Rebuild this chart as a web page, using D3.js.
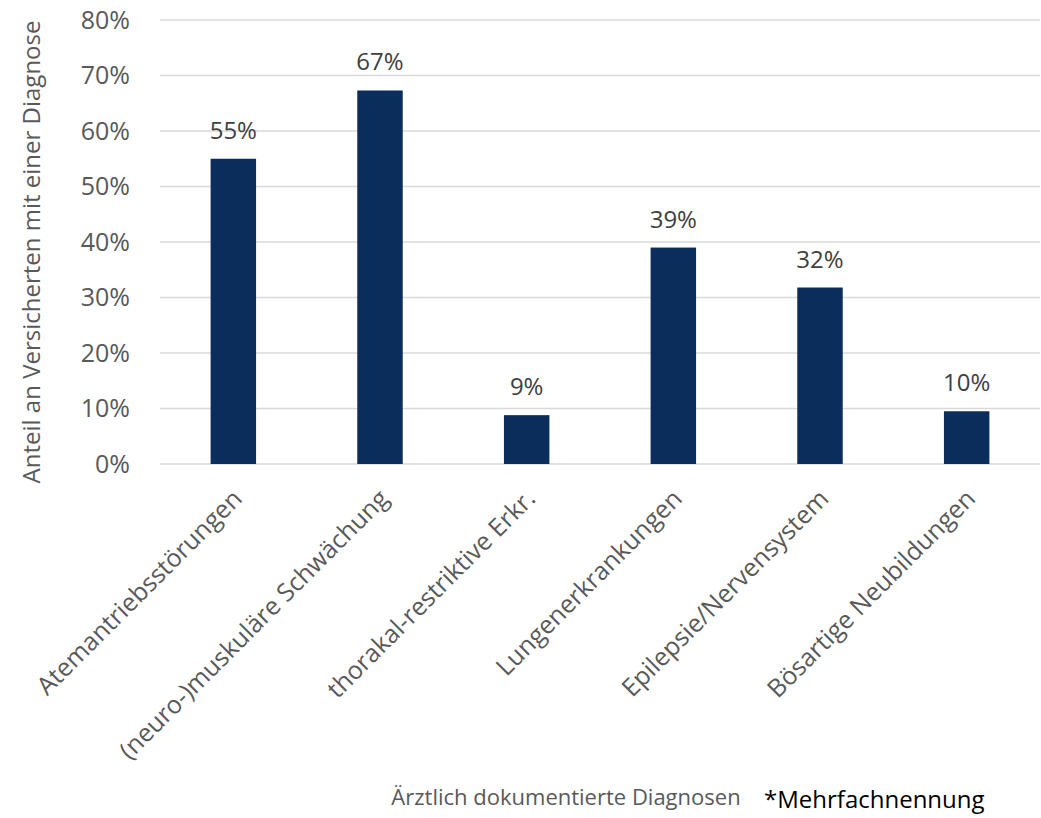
<!DOCTYPE html>
<html><head><meta charset="utf-8">
<script src="https://cdn.jsdelivr.net/npm/d3@7"></script>
<style>body{margin:0;background:#fff;} svg{display:block;font-family:"Open Sans",sans-serif;}</style>
</head><body>
<svg id="c" width="1041" height="818"></svg>
<script>
const categories = ["Atemantriebsstörungen","(neuro-)muskuläre Schwächung","thorakal-restriktive Erkr.","Lungenerkrankungen","Epilepsie/Nervensystem","Bösartige Neubildungen"];
const values = [55, 67.3, 8.8, 39, 31.8, 9.5];
const valueLabels = ["55%","67%","9%","39%","32%","10%"];
const yTicks = [0,10,20,30,40,50,60,70,80];

(function(){
const svg = d3.select("#c");
const mL = 160, mR = 1040, mT = 20, mB = 464;
const x = d3.scaleBand().domain(categories).range([mL, mR]).paddingInner(0.69).paddingOuter(0.345);
const y = d3.scaleLinear().domain([0,80]).range([mB, mT]);

svg.append("g").selectAll("line").data(yTicks).join("line")
  .attr("x1", mL).attr("x2", mR).attr("y1", d=>y(d)).attr("y2", d=>y(d))
  .attr("stroke", "#d9d9d9").attr("stroke-width", 1.5);

svg.append("g").selectAll("text").data(yTicks).join("text")
  .attr("x", 130).attr("y", d=>y(d)).attr("dy", "0.35em").attr("text-anchor","end")
  .attr("font-size", 25).attr("fill", "#595959").text(d=>d+"%");

svg.append("g").selectAll("rect").data(values).join("rect")
  .attr("x", (d,i)=>x(categories[i])).attr("width", x.bandwidth())
  .attr("y", d=>y(d)).attr("height", d=>mB - y(d)).attr("fill", "#0b2d5b");

svg.append("g").selectAll("text").data(values).join("text")
  .attr("x", (d,i)=>x(categories[i]) + x.bandwidth()/2).attr("y", d=>y(d) - 20)
  .attr("text-anchor","middle").attr("font-size", 24).attr("fill","#404040")
  .text((d,i)=>valueLabels[i]);

svg.append("g").selectAll("text").data(categories).join("text")
  .attr("transform", d=>`translate(${x(d)+x.bandwidth()/2+4},${mB+30}) rotate(-45)`)
  .attr("text-anchor","end").attr("dy","0.35em").attr("font-size", 25).attr("fill","#595959")
  .text(d=>d);

svg.append("text").attr("transform", `translate(40,${(mT+mB)/2+10}) rotate(-90)`)
  .attr("text-anchor","middle").attr("font-size", 24).attr("fill","#595959")
  .text("Anteil an Versicherten mit einer Diagnose");

svg.append("text").attr("x", 566).attr("y", 805).attr("text-anchor","middle")
  .attr("font-size", 22).attr("fill","#595959").text("Ärztlich dokumentierte Diagnosen");

svg.append("text").attr("x", 764).attr("y", 808)
  .attr("font-size", 24).attr("fill","#000").text("*Mehrfachnennung");
})();
</script>
</body></html>
